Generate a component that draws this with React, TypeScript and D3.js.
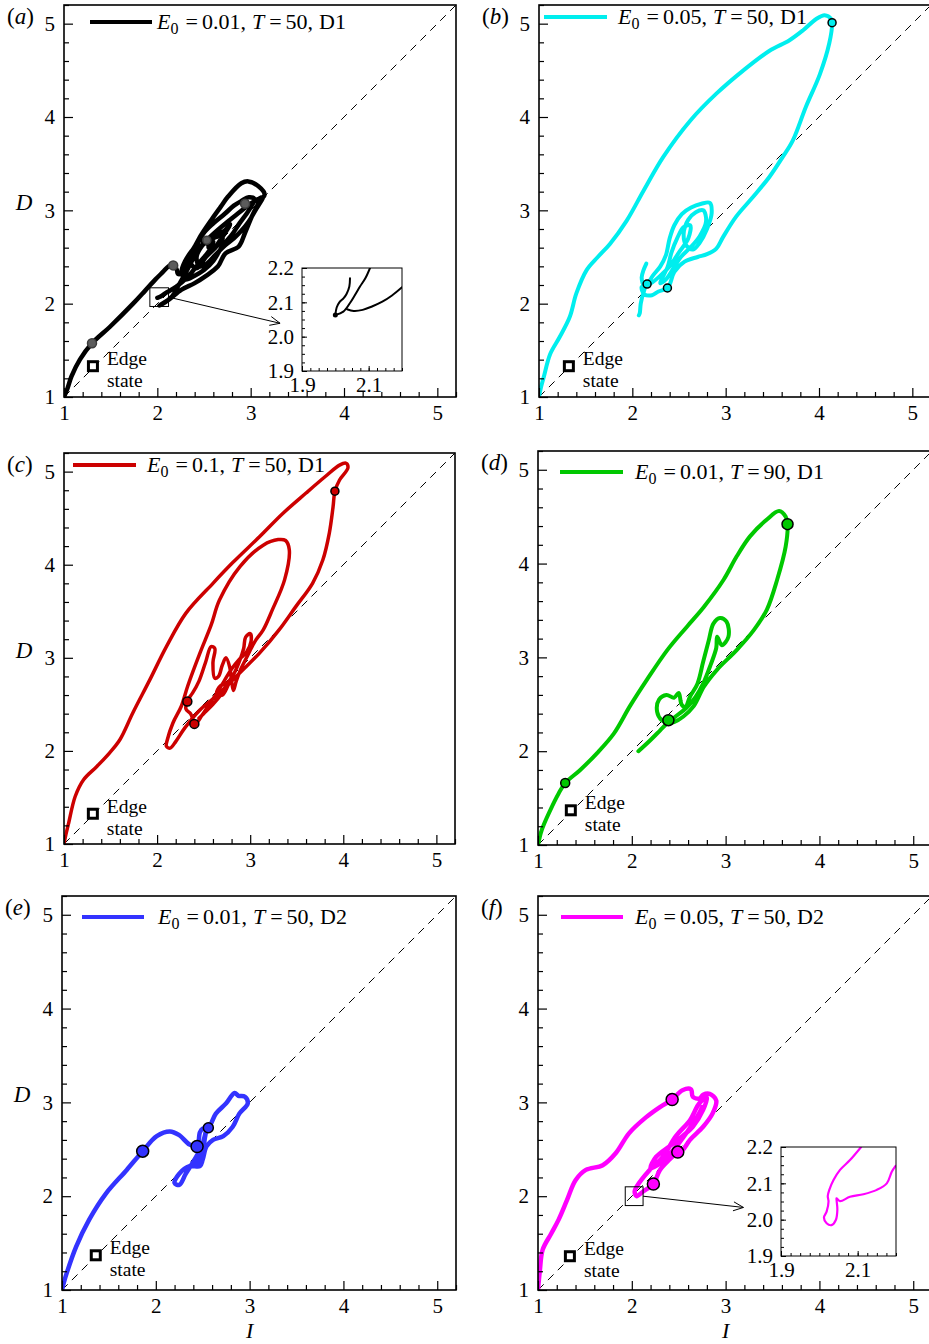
import { useEffect, useRef } from 'react'
import * as d3 from 'd3'

type Pt = [number, number]

const FONT = '"Liberation Serif", "Times New Roman", serif'

// tick values
const majorTicks = [1, 2, 3, 4, 5]
const minorTicks = [1.2, 1.4, 1.6, 1.8, 2.2, 2.4, 2.6, 2.8, 3.2, 3.4, 3.6, 3.8, 4.2, 4.4, 4.6, 4.8, 5.2]
const insetYTicks = [1.9, 2.0, 2.1, 2.2]
const insetXLabels = [1.9, 2.1]

// legend values
const panelKeys = ['a', 'b', 'c', 'd', 'e', 'f']
const e0Values = ['0.01', '0.05', '0.1', '0.01', '0.01', '0.05']
const tValues = ['50', '50', '50', '90', '50', '50']
const domainNames = ['D1', 'D1', 'D1', 'D1', 'D2', 'D2']

// (a) E0 = 0.01, T = 50, D1
const trajA: Pt[] = [
  [1, 1], [1.04, 1.1], [1.08, 1.22], [1.17, 1.4], [1.3, 1.575], [1.49, 1.75], [1.74, 2.0], [1.87, 2.14],
  [1.98, 2.26], [2.06, 2.34], [2.12, 2.4], [2.17, 2.42], [2.21, 2.36], [2.22, 2.32], [2.27, 2.33], [2.33, 2.42],
  [2.37, 2.54], [2.46, 2.72], [2.58, 2.9], [2.68, 3.04], [2.76, 3.15], [2.9, 3.29], [2.975, 3.31], [3.08, 3.26],
  [3.15, 3.17], [3.1, 3.1], [3.02, 2.95], [2.94, 2.76], [2.87, 2.61], [2.73, 2.54], [2.65, 2.4], [2.51, 2.29],
  [2.4, 2.22], [2.26, 2.15], [2.12, 2.04], [2.02, 1.98], [2.06, 2.0], [2.16, 2.08], [2.23, 2.2], [2.33, 2.38],
  [2.44, 2.58], [2.55, 2.7], [2.66, 2.8], [2.78, 2.9], [2.88, 2.98], [2.98, 3.06], [3.08, 3.12], [3.13, 3.14],
  [3.05, 3.0], [2.98, 2.88], [2.9, 2.78], [2.82, 2.7], [2.72, 2.62], [2.62, 2.52], [2.52, 2.42], [2.45, 2.4],
  [2.42, 2.5], [2.48, 2.62], [2.56, 2.7], [2.64, 2.74], [2.72, 2.78], [2.78, 2.85], [2.74, 2.78], [2.66, 2.66],
  [2.6, 2.58], [2.55, 2.6], [2.58, 2.68], [2.65, 2.72], [2.7, 2.7], [2.62, 2.6], [2.52, 2.5], [2.42, 2.38],
  [2.35, 2.45], [2.42, 2.62], [2.5, 2.76], [2.6, 2.86], [2.72, 2.96], [2.82, 3.05], [2.9, 3.1], [2.98, 3.14],
  [3.04, 3.12], [2.98, 3.0], [2.88, 2.86], [2.8, 2.74], [2.7, 2.62], [2.6, 2.46], [2.5, 2.36], [2.4, 2.3],
  [2.3, 2.26], [2.26, 2.34], [2.3, 2.46], [2.38, 2.58], [2.46, 2.68], [2.54, 2.64], [2.6, 2.66],
  [2.55, 2.56], [2.45, 2.44], [2.32, 2.28], [2.2, 2.18], [2.1, 2.12], [2.04, 2.08], [2.0, 2.063],
]
const markersA: [number, number, number][] = [[1.3, 1.575, 4.5], [2.17, 2.41, 4.5], [2.94, 3.07, 4.5], [2.53, 2.68, 4]]
const insetA: Pt[][] = [
  [[2.104, 2.2], [2.09, 2.17], [2.074, 2.146], [2.058, 2.12], [2.044, 2.098], [2.024, 2.073], [2.0, 2.063]],
  [[2.2, 2.144], [2.17, 2.12], [2.141, 2.102], [2.11, 2.088], [2.082, 2.078], [2.055, 2.075], [2.035, 2.08]],
  [[2.0, 2.063], [2.004, 2.085], [2.012, 2.1], [2.025, 2.112], [2.034, 2.125], [2.042, 2.146], [2.044, 2.17]],
]

// (b) E0 = 0.05, T = 50, D1
const trajB: Pt[] = [
  [1, 1], [1.02, 1.1], [1.05, 1.21], [1.12, 1.46], [1.22, 1.64], [1.33, 1.86], [1.4, 2.11], [1.51, 2.36],
  [1.63, 2.5], [1.76, 2.64], [1.94, 2.89], [2.12, 3.21], [2.33, 3.57], [2.62, 3.96], [2.9, 4.25], [3.19, 4.5],
  [3.47, 4.71], [3.68, 4.82], [3.83, 4.93], [3.97, 5.05], [4.06, 5.09], [4.13, 5.05], [4.14, 5.0], [4.11, 4.79],
  [4.01, 4.46], [3.86, 4.11], [3.72, 3.75], [3.61, 3.57], [3.47, 3.36], [3.29, 3.14], [3.11, 2.93], [2.97, 2.71],
  [2.9, 2.59], [2.8, 2.53], [2.7, 2.5], [2.56, 2.45], [2.45, 2.34], [2.38, 2.17], [2.28, 2.13], [2.21, 2.09],
  [2.13, 2.1], [2.1, 2.18], [2.16, 2.21], [2.22, 2.3], [2.3, 2.4], [2.36, 2.52], [2.4, 2.7], [2.45, 2.84],
  [2.53, 2.96], [2.63, 3.03], [2.74, 3.07], [2.83, 3.08], [2.85, 2.97], [2.8, 2.8], [2.72, 2.65], [2.65, 2.58],
  [2.58, 2.62], [2.55, 2.75], [2.6, 2.9], [2.68, 2.98], [2.76, 3.0], [2.79, 2.88], [2.72, 2.72], [2.62, 2.6],
  [2.52, 2.5], [2.44, 2.38], [2.36, 2.26], [2.3, 2.22], [2.38, 2.4], [2.42, 2.55], [2.48, 2.7], [2.55, 2.82],
  [2.62, 2.84], [2.6, 2.7], [2.5, 2.55], [2.4, 2.4], [2.3, 2.3], [2.2, 2.22], [2.158, 2.21], [2.12, 2.12],
  [2.09, 2.0], [2.08, 1.9], [2.07, 1.875],
]
const tailB: Pt[] = [[2.15, 2.43], [2.12, 2.36], [2.1, 2.28], [2.11, 2.22]]
const markersB: [number, number, number][] = [[4.14, 5.01, 4], [2.158, 2.21, 4], [2.376, 2.168, 4]]

// (c) E0 = 0.1, T = 50, D1
const trajC: Pt[] = [
  [1, 1], [1.02, 1.1], [1.05, 1.225], [1.12, 1.51], [1.21, 1.69], [1.35, 1.83], [1.49, 1.98], [1.6, 2.12],
  [1.74, 2.41], [1.92, 2.76], [2.1, 3.12], [2.31, 3.48], [2.6, 3.8], [2.81, 4.02], [3.1, 4.3], [3.35, 4.55],
  [3.6, 4.77], [3.81, 4.95], [3.96, 5.07], [4.03, 5.09], [4.05, 5.04], [3.96, 4.91], [3.91, 4.79], [3.89, 4.62],
  [3.85, 4.34], [3.78, 4.05], [3.67, 3.8], [3.49, 3.55], [3.31, 3.3], [3.1, 3.05], [2.89, 2.84], [2.67, 2.62],
  [2.46, 2.44], [2.3, 2.25], [2.2, 2.1], [2.14, 2.03], [2.1, 2.05], [2.11, 2.12], [2.17, 2.3], [2.26, 2.48],
  [2.33, 2.7], [2.46, 3.05], [2.58, 3.35], [2.67, 3.62], [2.89, 3.98], [3.14, 4.21], [3.3, 4.27], [3.38, 4.26],
  [3.42, 4.16], [3.37, 3.84], [3.24, 3.52], [3.14, 3.3], [3.06, 3.19], [3.02, 3.12], [2.96, 3.0], [2.9, 2.88],
  [2.85, 2.75], [2.82, 2.65], [2.8, 2.75], [2.78, 2.9], [2.74, 3.0], [2.7, 2.92], [2.66, 2.8], [2.62, 2.78],
  [2.6, 2.95], [2.62, 3.1], [2.58, 3.12], [2.52, 2.95], [2.45, 2.75], [2.38, 2.62], [2.33, 2.55], [2.31, 2.45],
  [2.36, 2.4], [2.41, 2.29], [2.48, 2.38], [2.56, 2.5], [2.64, 2.62], [2.72, 2.75], [2.8, 2.88], [2.88, 2.98],
  [2.96, 3.06], [3.01, 3.18], [3.0, 3.26], [2.95, 3.22], [2.93, 3.1], [2.88, 2.95], [2.82, 2.82], [2.74, 2.72],
  [2.68, 2.7], [2.64, 2.62], [2.7, 2.6], [2.76, 2.7], [2.8, 2.8], [2.77, 2.72], [2.7, 2.62], [2.6, 2.5],
  [2.5, 2.4], [2.45, 2.35],
]
const markersC: [number, number, number][] = [[3.91, 4.79, 4], [2.325, 2.53, 4.5], [2.4, 2.29, 4.5]]

// (d) E0 = 0.01, T = 90, D1
const trajD: Pt[] = [
  [1, 1], [1.04, 1.16], [1.13, 1.37], [1.22, 1.55], [1.29, 1.66], [1.45, 1.8], [1.63, 1.98], [1.81, 2.19],
  [1.98, 2.48], [2.16, 2.76], [2.38, 3.08], [2.59, 3.33], [2.77, 3.54], [2.98, 3.83], [3.12, 4.08], [3.26, 4.29],
  [3.44, 4.47], [3.57, 4.56], [3.64, 4.5], [3.66, 4.42], [3.64, 4.18], [3.55, 3.83], [3.44, 3.51], [3.3, 3.29],
  [3.12, 3.08], [2.91, 2.87], [2.77, 2.69], [2.66, 2.48], [2.55, 2.37], [2.45, 2.31], [2.39, 2.3], [2.32, 2.33],
  [2.27, 2.42], [2.29, 2.55], [2.37, 2.6], [2.45, 2.57], [2.5, 2.62], [2.53, 2.5], [2.57, 2.47], [2.62, 2.58],
  [2.7, 2.72], [2.76, 2.95], [2.82, 3.18], [2.87, 3.36], [2.94, 3.42], [3.01, 3.38], [3.03, 3.22], [2.96, 3.13],
  [2.91, 3.22], [2.9, 3.1], [2.84, 2.92], [2.76, 2.72], [2.68, 2.58], [2.58, 2.46], [2.48, 2.38], [2.38, 2.3],
  [2.3, 2.22], [2.2, 2.12], [2.07, 2.0],
]
const markersD: [number, number, number][] = [[1.29, 1.66, 4.5], [3.66, 4.42, 5.5], [2.39, 2.33, 5.5]]

// (e) E0 = 0.01, T = 50, D2
const trajE: Pt[] = [
  [1, 1], [1.02, 1.08], [1.05, 1.18], [1.15, 1.46], [1.29, 1.75], [1.47, 2.03], [1.69, 2.28], [1.86, 2.48],
  [2.01, 2.64], [2.15, 2.69], [2.25, 2.65], [2.36, 2.55], [2.44, 2.53], [2.47, 2.68], [2.5, 2.72], [2.56, 2.73],
  [2.64, 2.88], [2.75, 2.99], [2.84, 3.1], [2.88, 3.07], [2.95, 3.06], [2.98, 2.99], [2.89, 2.88], [2.82, 2.74],
  [2.72, 2.64], [2.61, 2.6], [2.54, 2.53], [2.5, 2.39], [2.47, 2.32], [2.36, 2.32], [2.25, 2.24], [2.2, 2.14],
  [2.25, 2.12], [2.32, 2.24], [2.43, 2.42], [2.5, 2.56], [2.54, 2.72], [2.52, 2.6], [2.5, 2.45], [2.46, 2.36],
  [2.4, 2.32], [2.44, 2.4], [2.5, 2.5],
]
const markersE: [number, number, number][] = [[1.86, 2.48, 6], [2.44, 2.53, 6], [2.56, 2.73, 5]]

// (f) E0 = 0.05, T = 50, D2
const trajF: Pt[] = [
  [1, 1], [1.02, 1.21], [1.05, 1.43], [1.14, 1.6], [1.22, 1.75], [1.31, 1.96], [1.4, 2.17], [1.51, 2.28],
  [1.69, 2.33], [1.83, 2.46], [1.97, 2.67], [2.15, 2.84], [2.3, 2.95], [2.43, 3.03], [2.54, 3.13], [2.63, 3.14],
  [2.65, 3.06], [2.72, 3.04], [2.76, 3.08], [2.83, 3.09], [2.9, 3.02], [2.86, 2.88], [2.76, 2.74], [2.62, 2.6],
  [2.54, 2.49], [2.49, 2.47], [2.4, 2.39], [2.3, 2.28], [2.23, 2.13], [2.12, 2.05], [2.05, 2.0], [2.03, 2.05],
  [2.05, 2.1], [2.19, 2.28], [2.33, 2.42], [2.47, 2.64], [2.62, 2.81], [2.72, 2.99], [2.8, 3.05], [2.76, 2.92],
  [2.65, 2.74], [2.54, 2.64], [2.4, 2.53], [2.26, 2.42], [2.2, 2.3], [2.3, 2.35], [2.45, 2.5], [2.6, 2.7],
  [2.7, 2.85], [2.75, 2.95],
]
const markersF: [number, number, number][] = [[2.43, 3.03, 6], [2.49, 2.47, 6], [2.23, 2.13, 6]]
const insetF: Pt[][] = [
  [[2.109, 2.2], [2.08, 2.164], [2.054, 2.137], [2.037, 2.109], [2.026, 2.082], [2.022, 2.065], [2.024, 2.05],
    [2.019, 2.022], [2.012, 2.006], [2.019, 1.99], [2.032, 1.985], [2.043, 1.999], [2.047, 2.027], [2.045, 2.054],
    [2.045, 2.059], [2.054, 2.051], [2.08, 2.063], [2.115, 2.07], [2.15, 2.082], [2.176, 2.1], [2.189, 2.132],
    [2.199, 2.148]],
]

// edge state locations
const edgeStates: Pt[] = [[1.31, 1.33], [1.32, 1.33], [1.31, 1.325], [1.35, 1.37], [1.36, 1.37], [1.34, 1.36]]

const panels = [
  { left: 64, top: 5, size: 392, color: '#000000', sw: 4.5, traj: [trajA], markers: markersA, mFill: '#5c5c5c', mStroke: '#3c3c3c',
    legend: { x0: 26, x1: 88, y: 17, tx: 93, ty: 24 }, yLabel: true, xLabel: false,
    zoom: { box: [1.92, 2.12, 1.97, 2.17], from: [2.12, 2.07] as Pt, to: [3.315, 1.79] as Pt, inset: { x: 238, y: 263, w: 100, h: 103 }, curves: insetA, dot: [2.0, 2.063] as Pt, isw: 2 } },
  { left: 539, top: 5, size: 392, color: '#00eeee', sw: 4, traj: [trajB, tailB], markers: markersB, mFill: '#00eeee', mStroke: '#000',
    legend: { x0: 5, x1: 68, y: 12, tx: 79, ty: 19 }, yLabel: false, xLabel: false, zoom: null },
  { left: 64, top: 453, size: 391, color: '#cc0000', sw: 3.5, traj: [trajC], markers: markersC, mFill: '#cc0000', mStroke: '#000',
    legend: { x0: 9, x1: 72, y: 12, tx: 83, ty: 19 }, yLabel: true, xLabel: false, zoom: null },
  { left: 538, top: 451, size: 394, color: '#00c800', sw: 4, traj: [trajD], markers: markersD, mFill: '#00c800', mStroke: '#000',
    legend: { x0: 22, x1: 85, y: 21, tx: 97, ty: 28 }, yLabel: false, xLabel: false, zoom: null },
  { left: 62, top: 896, size: 394, color: '#3333ff', sw: 4.5, traj: [trajE], markers: markersE, mFill: '#3333ff', mStroke: '#000',
    legend: { x0: 20, x1: 82, y: 21, tx: 96, ty: 28 }, yLabel: true, xLabel: true, zoom: null },
  { left: 538, top: 896, size: 394, color: '#ff00ff', sw: 4.5, traj: [trajF], markers: markersF, mFill: '#ff00ff', mStroke: '#000',
    legend: { x0: 23, x1: 85, y: 21, tx: 97, ty: 28 }, yLabel: false, xLabel: true,
    zoom: { box: [1.93, 2.12, 1.9, 2.1], from: [2.12, 2.0] as Pt, to: [3.19, 1.88] as Pt, inset: { x: 243, y: 251, w: 115, h: 109 }, curves: insetF, dot: null, isw: 2.2 } },
]

const App = () => {
  const svgRef = useRef<SVGSVGElement>(null)

  useEffect(() => {
    const svg = d3.select(svgRef.current)
    svg.selectAll('*').remove()

    panels.forEach((p, i) => {
      const g = svg.append('g').attr('transform', `translate(${p.left},${p.top})`)
      const x = d3.scaleLinear().domain([1, 5.2]).range([0, p.size])
      const y = d3.scaleLinear().domain([1, 5.2]).range([p.size, 0])
      const clipId = `clip-${panelKeys[i]}`
      g.append('clipPath').attr('id', clipId).append('rect').attr('width', p.size).attr('height', p.size)
      const plot = g.append('g').attr('clip-path', `url(#${clipId})`)

      // diagonal I = D
      plot.append('line')
        .attr('x1', x(1)).attr('y1', y(1)).attr('x2', x(5.2)).attr('y2', y(5.2))
        .attr('stroke', '#000').attr('stroke-width', 1).attr('stroke-dasharray', '8,6')

      const line = d3.line<Pt>().x(d => x(d[0])).y(d => y(d[1])).curve(d3.curveCatmullRom.alpha(0.5))
      p.traj.forEach(seg => {
        plot.append('path').attr('d', line(seg))
          .attr('fill', 'none').attr('stroke', p.color).attr('stroke-width', p.sw)
          .attr('stroke-linejoin', 'round').attr('stroke-linecap', 'round')
      })

      p.markers.forEach(m => {
        plot.append('circle').attr('cx', x(m[0])).attr('cy', y(m[1])).attr('r', m[2])
          .attr('fill', p.mFill).attr('stroke', p.mStroke).attr('stroke-width', 1.5)
      })

      // edge state
      const es = edgeStates[i]
      plot.append('rect').attr('x', x(es[0]) - 4.5).attr('y', y(es[1]) - 4.5).attr('width', 9).attr('height', 9)
        .attr('fill', '#fff').attr('stroke', '#000').attr('stroke-width', 3)
      g.append('text').attr('x', x(es[0]) + 14).attr('y', y(es[1]) - 1)
        .attr('font-family', FONT).attr('font-size', 19.5).attr('fill', '#000').text('Edge')
      g.append('text').attr('x', x(es[0]) + 14).attr('y', y(es[1]) + 21)
        .attr('font-family', FONT).attr('font-size', 19.5).attr('fill', '#000').text('state')

      // zoom box, arrow, inset
      if (p.zoom) {
        const z = p.zoom
        plot.append('rect')
          .attr('x', x(z.box[0])).attr('y', y(z.box[3]))
          .attr('width', x(z.box[1]) - x(z.box[0])).attr('height', y(z.box[2]) - y(z.box[3]))
          .attr('fill', 'none').attr('stroke', '#000').attr('stroke-width', 1)
        const ax0 = x(z.from[0]), ay0 = y(z.from[1]), ax1 = x(z.to[0]), ay1 = y(z.to[1])
        const ang = Math.atan2(ay1 - ay0, ax1 - ax0)
        const hl = 11, ha = 0.42
        plot.append('path')
          .attr('d', `M${ax0},${ay0}L${ax1},${ay1}M${ax1 - hl * Math.cos(ang - ha)},${ay1 - hl * Math.sin(ang - ha)}L${ax1},${ay1}L${ax1 - hl * Math.cos(ang + ha)},${ay1 - hl * Math.sin(ang + ha)}`)
          .attr('fill', 'none').attr('stroke', '#000').attr('stroke-width', 1)

        const ig = g.append('g').attr('transform', `translate(${z.inset.x},${z.inset.y})`)
        const ix = d3.scaleLinear().domain([1.9, 2.2]).range([0, z.inset.w])
        const iy = d3.scaleLinear().domain([1.9, 2.2]).range([z.inset.h, 0])
        const iclip = `iclip-${panelKeys[i]}`
        ig.append('clipPath').attr('id', iclip).append('rect').attr('width', z.inset.w).attr('height', z.inset.h)
        ig.append('rect').attr('width', z.inset.w).attr('height', z.inset.h).attr('fill', '#fff')
        const ip = ig.append('g').attr('clip-path', `url(#${iclip})`)
        const iline = d3.line<Pt>().x(d => ix(d[0])).y(d => iy(d[1])).curve(d3.curveCatmullRom.alpha(0.5))
        z.curves.forEach(c => {
          ip.append('path').attr('d', iline(c)).attr('fill', 'none').attr('stroke', p.color)
            .attr('stroke-width', z.isw).attr('stroke-linejoin', 'round').attr('stroke-linecap', 'round')
        })
        if (z.dot) ip.append('circle').attr('cx', ix(z.dot[0])).attr('cy', iy(z.dot[1])).attr('r', 2.5).attr('fill', p.color)

        const iminor = d3.range(1.9, 2.2001, 0.025)
        const ixa = ig.append('g').attr('transform', `translate(0,${z.inset.h})`)
          .call(d3.axisBottom(ix).tickValues(iminor).tickSize(-3).tickFormat(() => ''))
        ixa.select('.domain').remove()
        const ixl = ig.append('g').attr('transform', `translate(0,${z.inset.h})`)
          .call(d3.axisBottom(ix).tickValues(insetXLabels).tickSize(-5).tickPadding(6).tickFormat(d3.format('.1f')))
        ixl.select('.domain').remove()
        const iya = ig.append('g').call(d3.axisLeft(iy).tickValues(iminor).tickSize(-3).tickFormat(() => ''))
        iya.select('.domain').remove()
        const iyl = ig.append('g').call(d3.axisLeft(iy).tickValues(insetYTicks).tickSize(-5).tickPadding(8).tickFormat(d3.format('.1f')))
        iyl.select('.domain').remove()
        ;[ixl, iyl].forEach(a => a.attr('font-family', FONT).attr('font-size', 21).selectAll('text').attr('fill', '#000'))
        ig.append('rect').attr('width', z.inset.w).attr('height', z.inset.h)
          .attr('fill', 'none').attr('stroke', '#000').attr('stroke-width', 1)
      }

      // axes
      const xMinor = g.append('g').attr('transform', `translate(0,${p.size})`)
        .call(d3.axisBottom(x).tickValues(minorTicks).tickSize(-5).tickFormat(() => ''))
      const xMajor = g.append('g').attr('transform', `translate(0,${p.size})`)
        .call(d3.axisBottom(x).tickValues(majorTicks).tickSize(-9).tickPadding(8).tickFormat(d3.format('d')))
      const yMinor = g.append('g').call(d3.axisLeft(y).tickValues(minorTicks).tickSize(-5).tickFormat(() => ''))
      const yMajor = g.append('g').call(d3.axisLeft(y).tickValues(majorTicks).tickSize(-9).tickPadding(9).tickFormat(d3.format('d')))
      ;[xMinor, xMajor, yMinor, yMajor].forEach(a => {
        a.select('.domain').remove()
        a.selectAll('line').attr('stroke-width', 1.2)
        a.attr('font-family', FONT).attr('font-size', 21)
        a.selectAll('text').attr('fill', '#000')
      })

      g.append('rect').attr('width', p.size).attr('height', p.size)
        .attr('fill', 'none').attr('stroke', '#000').attr('stroke-width', 1.6)

      // legend
      const lg = p.legend
      g.append('line').attr('x1', lg.x0).attr('x2', lg.x1).attr('y1', lg.y).attr('y2', lg.y)
        .attr('stroke', p.color).attr('stroke-width', 4)
      const lt = g.append('text').attr('x', lg.tx).attr('y', lg.ty)
        .attr('font-family', FONT).attr('font-size', 22).attr('fill', '#000')
      lt.append('tspan').attr('font-style', 'italic').text('E')
      lt.append('tspan').attr('font-size', 16).attr('dy', 5).text('0')
      lt.append('tspan').attr('dy', -5).attr('dx', 7).text('=')
      lt.append('tspan').attr('dx', 4).text(`${e0Values[i]},`)
      lt.append('tspan').attr('dx', 6).attr('font-style', 'italic').text('T')
      lt.append('tspan').attr('dx', 5).text('=')
      lt.append('tspan').attr('dx', 4).text(`${tValues[i]},`)
      lt.append('tspan').attr('dx', 6).text(domainNames[i])

      // panel label
      const pl = g.append('text').attr('x', -57).attr('y', 19)
        .attr('font-family', FONT).attr('font-size', 23).attr('fill', '#000')
      pl.append('tspan').text('(')
      pl.append('tspan').attr('font-style', 'italic').text(panelKeys[i])
      pl.append('tspan').text(')')

      if (p.yLabel) {
        g.append('text').attr('x', -40).attr('y', y(3)).attr('text-anchor', 'middle')
          .attr('font-family', FONT).attr('font-size', 23).attr('font-style', 'italic').text('D')
      }
      if (p.xLabel) {
        g.append('text').attr('x', x(3)).attr('y', p.size + 48).attr('text-anchor', 'middle')
          .attr('font-family', FONT).attr('font-size', 22).attr('font-style', 'italic').text('I')
      }
    })
  }, [])

  return (
    <svg ref={svgRef} width={929} height={1344}
      style={{ position: 'absolute', left: 0, top: 0, background: '#fff' }} />
  )
}

export default App
